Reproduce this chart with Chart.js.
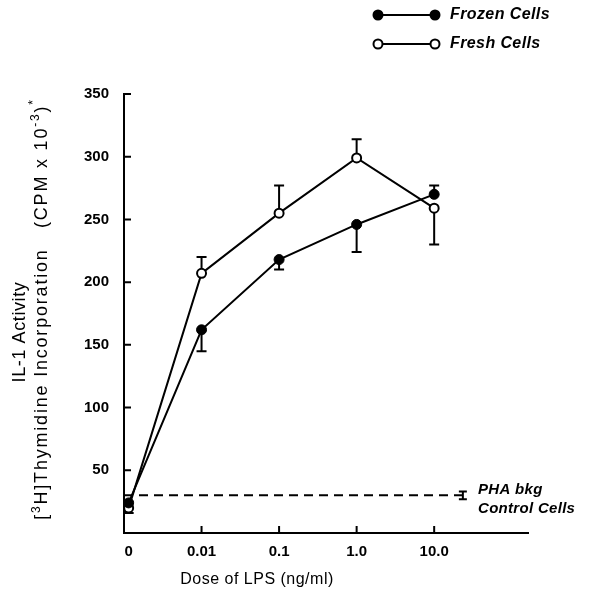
<!DOCTYPE html>
<html>
<head>
<meta charset="utf-8">
<script src="https://cdn.jsdelivr.net/npm/chart.js@4.4.0/dist/chart.umd.min.js"></script>
<style>
  html, body { margin: 0; padding: 0; background: #fff; }
  #wrap { width: 594px; height: 597px; }
</style>
</head>
<body>
<div id="wrap"><canvas id="chart" width="594" height="597"></canvas></div>
<script>
// data
const doses = ['0', '0.01', '0.1', '1.0', '10.0'];
const frozenCells = [24, 162, 218, 246, 270];
const frozenErr = [-8, -17, -8, -22, 7];   // one-sided bars, sign gives direction
const freshCells = [20, 207, 255, 299, 259];
const freshErr = [0, 13, 22, 15, -29];
const phaBkg = 30;
const phaErr = 3;
const yTicks = [50, 100, 150, 200, 250, 300, 350];

// layout
const zeroNudge = 0.06;   // the "0" dose sits just right of the axis
const phaX = 4.37;        // where the control bar is drawn
const xMax = 5.21;
const FONT = '"Liberation Sans", Arial, sans-serif';

function xPos(i) { return i === 0 ? zeroNudge : i; }

function errorBars(chart, vals, errs) {
  const ctx = chart.ctx;
  const xs = chart.scales.x, ys = chart.scales.y;
  vals.forEach((v, i) => {
    if (!errs[i]) return;
    const px = xs.getPixelForValue(xPos(i));
    const p0 = ys.getPixelForValue(v);
    const p1 = ys.getPixelForValue(v + errs[i]);
    ctx.beginPath();
    ctx.moveTo(px, p0); ctx.lineTo(px, p1);
    ctx.moveTo(px - 5, p1); ctx.lineTo(px + 5, p1);
    ctx.stroke();
  });
}

// draws a line of text with raised small pieces, centred on (0,0)
function richText(ctx, parts) {
  let total = 0;
  parts.forEach(p => { ctx.font = p.f; p.w = ctx.measureText(p.t).width; total += p.w; });
  let x = -total / 2;
  parts.forEach(p => {
    ctx.font = p.f;
    ctx.fillText(p.t, x, p.dy || 0);
    x += p.w;
  });
}

const decorations = {
  id: 'decorations',
  beforeDatasetsDraw(chart) {
    const ctx = chart.ctx;
    ctx.save();
    ctx.strokeStyle = '#000';
    ctx.lineWidth = 2;
    errorBars(chart, frozenCells, frozenErr);
    errorBars(chart, freshCells, freshErr);
    // control cell bar
    const xs = chart.scales.x, ys = chart.scales.y;
    const px = xs.getPixelForValue(phaX);
    const a = ys.getPixelForValue(phaBkg - phaErr), b = ys.getPixelForValue(phaBkg + phaErr);
    ctx.beginPath();
    ctx.moveTo(px, a); ctx.lineTo(px, b);
    ctx.moveTo(px - 4, a); ctx.lineTo(px + 4, a);
    ctx.moveTo(px - 4, b); ctx.lineTo(px + 4, b);
    ctx.stroke();
    // inward tick marks
    const area = chart.chartArea;
    ctx.beginPath();
    yTicks.forEach(v => {
      const py = ys.getPixelForValue(v);
      ctx.moveTo(area.left, py); ctx.lineTo(area.left + 7, py);
    });
    doses.forEach((d, i) => {
      if (i === 0) return;
      const qx = xs.getPixelForValue(xPos(i));
      ctx.moveTo(qx, area.bottom); ctx.lineTo(qx, area.bottom - 7);
    });
    ctx.stroke();
    ctx.restore();
  },
  afterDraw(chart) {
    const ctx = chart.ctx;
    ctx.save();
    ctx.fillStyle = '#000';
    ctx.strokeStyle = '#000';
    ctx.textBaseline = 'middle';

    // legend
    const legend = [
      { label: 'Frozen Cells', fill: '#000', y: 15 },
      { label: 'Fresh Cells', fill: '#fff', y: 44 }
    ];
    legend.forEach(it => {
      ctx.lineWidth = 2;
      ctx.beginPath();
      ctx.moveTo(378, it.y); ctx.lineTo(435, it.y);
      ctx.stroke();
      [378, 435].forEach(cx => {
        ctx.beginPath();
        ctx.arc(cx, it.y, 4.5, 0, Math.PI * 2);
        ctx.fillStyle = it.fill;
        ctx.fill();
        ctx.stroke();
      });
      ctx.fillStyle = '#000';
      ctx.font = 'italic bold 16px ' + FONT;
      ctx.textAlign = 'left';
      ctx.letterSpacing = '0.4px';
      ctx.fillText(it.label, 450, it.y);
    });

    // control label
    ctx.font = 'italic bold 15px ' + FONT;
    ctx.letterSpacing = '0.3px';
    ctx.fillText('PHA bkg', 478, 490);
    ctx.fillText('Control Cells', 478, 509);

    // x title
    ctx.font = '16px ' + FONT;
    ctx.textAlign = 'center';
    ctx.letterSpacing = '0.5px';
    ctx.fillText('Dose of LPS (ng/ml)', 257, 580);

    // y title, two lines
    ctx.textAlign = 'left';
    const base = '18px ' + FONT, small = '12px ' + FONT;
    ctx.letterSpacing = '0.6px';
    ctx.save();
    ctx.translate(20, 332);
    ctx.rotate(-Math.PI / 2);
    richText(ctx, [{ t: 'IL-1 Activity', f: base }]);
    ctx.restore();
    ctx.letterSpacing = '1.8px';
    ctx.save();
    ctx.translate(42, 309);
    ctx.rotate(-Math.PI / 2);
    richText(ctx, [
      { t: '[', f: base },
      { t: '3', f: small, dy: -5 },
      { t: 'H]', f: base },
      { t: 'Thymidine Incorporation   (CPM x 10', f: base },
      { t: '-3', f: small, dy: -6 },
      { t: ')', f: base },
      { t: '*', f: small, dy: -8 }
    ]);
    ctx.restore();
    ctx.restore();
  }
};

const pointsOf = vals => vals.map((v, i) => ({ x: xPos(i), y: v }));

new Chart(document.getElementById('chart'), {
  type: 'line',
  data: {
    datasets: [
      {
        label: 'Frozen Cells',
        data: pointsOf(frozenCells),
        borderColor: '#000',
        borderWidth: 2,
        pointRadius: 5,
        pointBackgroundColor: '#000',
        pointBorderColor: '#000',
        pointBorderWidth: 1,
        tension: 0
      },
      {
        label: 'Fresh Cells',
        data: pointsOf(freshCells),
        borderColor: '#000',
        borderWidth: 2,
        pointRadius: 4.5,
        pointBackgroundColor: '#fff',
        pointBorderColor: '#000',
        pointBorderWidth: 2,
        tension: 0
      },
      {
        label: 'PHA bkg Control Cells',
        data: [{ x: 0, y: phaBkg }, { x: phaX, y: phaBkg }],
        borderColor: '#000',
        borderWidth: 2,
        borderDash: [9, 6],
        pointRadius: 0,
        tension: 0
      }
    ]
  },
  options: {
    responsive: false,
    animation: false,
    layout: { padding: { left: 0, top: 94, right: 66, bottom: 0 } },
    plugins: {
      legend: { display: false },
      tooltip: { enabled: false }
    },
    scales: {
      x: {
        type: 'linear',
        min: 0,
        max: xMax,
        afterFit(scale) { scale.height = 64; },
        afterBuildTicks(scale) { scale.ticks = doses.map((d, i) => ({ value: xPos(i) })); },
        ticks: {
          color: '#000',
          padding: 10,
          font: { family: FONT, size: 15, weight: 'bold' },
          callback: (v, i) => doses[i]
        },
        grid: { drawOnChartArea: false, drawTicks: false },
        border: { display: true, color: '#000', width: 2 }
      },
      y: {
        min: 0,
        max: 350,
        afterFit(scale) { scale.width = 124; },
        afterBuildTicks(scale) { scale.ticks = yTicks.map(v => ({ value: v })); },
        ticks: {
          color: '#000',
          padding: 15,
          font: { family: FONT, size: 15, weight: 'bold' }
        },
        grid: { drawOnChartArea: false, drawTicks: false },
        border: { display: true, color: '#000', width: 2 }
      }
    }
  },
  plugins: [decorations]
});
</script>
</body>
</html>
